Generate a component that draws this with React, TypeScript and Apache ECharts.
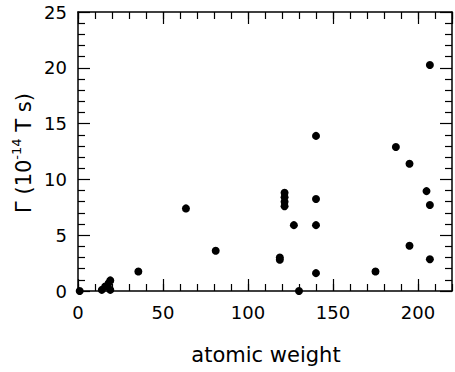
import React, { useEffect, useRef } from "react";
import * as echarts from "echarts";

// atomic weight (x) and Γ in units of 10^-14 T s (y)
const atomicWeight = [
  1, 14, 16, 18, 19, 19, 35.5, 63.5, 81, 118.7, 118.7, 121.5, 121.5, 121.5,
  121.5, 127, 130, 140, 140, 140, 140, 175, 187, 195, 195, 205, 207, 207, 207,
];
const gamma = [
  0, 0.1, 0.4, 0.7, 0.95, 0.1, 1.75, 7.4, 3.6, 2.8, 3.0, 8.8, 8.4, 8.0, 7.6,
  5.9, 0, 13.9, 8.25, 5.9, 1.6, 1.75, 12.9, 11.4, 4.05, 8.95, 7.7, 2.85, 20.25,
];

const xMin = 0;
const xMax = 220;
const xMajor = 50;
const xMinor = 10;
const yMin = 0;
const yMax = 25;
const yMajor = 5;

const xTitle = "atomic weight";

export default function App() {
  const ref = useRef<HTMLDivElement>(null);

  useEffect(() => {
    if (!ref.current) return;
    const chart = echarts.init(ref.current, undefined, { renderer: "svg" });
    const font = "DejaVu Sans";
    const grid = { left: 78, right: 3, top: 12, bottom: 81 };
    const line = { show: true, onZero: false, lineStyle: { color: "#000", width: 1.5 } };
    const noLine = { show: false, onZero: false };
    const majorTick = { show: true, inside: true, length: 12, lineStyle: { color: "#000", width: 1.2 } };
    const minorTick = { show: true, inside: true, length: 7, lineStyle: { color: "#000", width: 1.2 } };
    const label = { show: true, color: "#000", fontFamily: font, fontSize: 18, margin: 12 };

    const points = atomicWeight.map((x, i) => [x, gamma[i]]);

    chart.setOption({
      animation: false,
      backgroundColor: "#fff",
      grid: [grid, grid],
      xAxis: [
        {
          gridIndex: 0, type: "value", position: "bottom", min: xMin, max: xMax, interval: xMajor,
          axisLine: line, axisTick: majorTick, splitLine: { show: false },
          axisLabel: { ...label, showMaxLabel: false },
        },
        {
          gridIndex: 0, type: "value", position: "top", min: xMin, max: xMax, interval: xMajor,
          axisLine: line, axisTick: majorTick, splitLine: { show: false }, axisLabel: { show: false },
        },
        {
          gridIndex: 1, type: "value", position: "bottom", min: xMin, max: xMax, interval: xMinor,
          axisLine: noLine, axisTick: minorTick, splitLine: { show: false }, axisLabel: { show: false },
        },
        {
          gridIndex: 1, type: "value", position: "top", min: xMin, max: xMax, interval: xMinor,
          axisLine: noLine, axisTick: minorTick, splitLine: { show: false }, axisLabel: { show: false },
        },
      ],
      yAxis: [
        {
          gridIndex: 0, type: "value", position: "left", min: yMin, max: yMax, interval: yMajor,
          axisLine: line, axisTick: majorTick, splitLine: { show: false },
          minorTick: { show: true, splitNumber: 5, length: 7, lineStyle: { color: "#000", width: 1.2 } },
          minorSplitLine: { show: false },
          axisLabel: { ...label, margin: 11 },
        },
        {
          gridIndex: 0, type: "value", position: "right", min: yMin, max: yMax, interval: yMajor,
          axisLine: line, axisTick: majorTick, splitLine: { show: false },
          minorTick: { show: true, splitNumber: 5, length: 7, lineStyle: { color: "#000", width: 1.2 } },
          minorSplitLine: { show: false },
          axisLabel: { show: false },
        },
        {
          gridIndex: 1, type: "value", min: yMin, max: yMax, show: false,
        },
      ],
      graphic: [
        {
          type: "text",
          x: 266,
          y: 355,
          style: {
            text: xTitle,
            font: `21px "${font}"`,
            fill: "#000",
            align: "center",
            verticalAlign: "middle",
          },
        },
        {
          type: "text",
          x: 22,
          y: 153,
          rotation: Math.PI / 2,
          style: {
            text: "{n|Γ (10}{s|-14}{n| T s)}",
            fill: "#000",
            align: "center",
            verticalAlign: "middle",
            rich: {
              n: { fontFamily: font, fontSize: 21, fill: "#000", verticalAlign: "bottom", lineHeight: 24 },
              s: { fontFamily: font, fontSize: 13, fill: "#000", verticalAlign: "top", lineHeight: 16 },
            },
          },
        },
      ],
      series: [
        {
          type: "scatter",
          xAxisIndex: 0,
          yAxisIndex: 0,
          data: points,
          symbol: "circle",
          symbolSize: 8,
          clip: false,
          itemStyle: { color: "#000", opacity: 1 },
        },
      ],
    });
    return () => chart.dispose();
  }, []);

  return (
    <div
      ref={ref}
      style={{ position: "absolute", left: 0, top: 0, width: 455, height: 372 }}
    />
  );
}
